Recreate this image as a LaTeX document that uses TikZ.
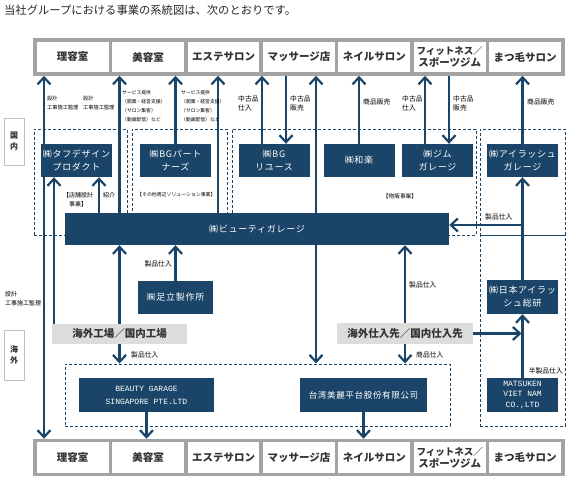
\documentclass[tikz,border=0pt]{standalone}
\usepackage{fontspec}
\setmainfont{Noto Sans CJK JP}
\newfontfamily\cospaced[LetterSpace=8]{Noto Sans CJK JP}
\newfontfamily\latinmono{Liberation Mono}
\usepackage{tikz}
\usetikzlibrary{arrows.meta,positioning,calc}
\usepackage{xcolor}
\definecolor{bgnavy}{HTML}{1B4568}
\definecolor{shopgray}{HTML}{A3A3A3}
\definecolor{srcgray}{HTML}{DCDCDC}

\begin{document}
\begin{tikzpicture}[x=1pt,y=-1pt,font=\fontsize{5.2}{9}\selectfont,
  shop/.style={draw=shopgray,line width=3.5pt,fill=white,minimum width=75.4pt,minimum height=34pt,inner sep=0pt,align=center,text=black!80,font=\fontsize{10.5}{12}\selectfont\bfseries},
  co/.style={fill=bgnavy,text=white,minimum width=71pt,minimum height=33pt,inner sep=0pt,align=center,font=\cospaced\fontsize{9}{13}\selectfont},
  src/.style={fill=srcgray,inner sep=0pt,text=black!80,font=\fontsize{10.5}{12}\selectfont\bfseries},
  grp/.style={draw=bgnavy,line width=1pt,dash pattern=on 3pt off 2pt,inner sep=0pt},
  arr/.style={draw=bgnavy,line width=2.2pt,-{Straight Barb[length=7pt,width=13pt]}},
  lbl/.style={inner sep=0pt,anchor=west,align=left},
  flow/.style={lbl,font=\fontsize{6.8}{9}\selectfont},
  area/.style={draw=black!25,line width=0.8pt,fill=white,minimum width=20pt,inner sep=0pt,align=center,text=black!80,font=\fontsize{8}{11}\selectfont\bfseries}]
  \useasboundingbox (0,0) rectangle (580,482);
  \node[lbl,text=black!85,font=\fontsize{11.3}{13}\selectfont] (title) at (4,10) {当社グループにおける事業の系統図は、次のとおりです。};
  \foreach \t [count=\i] in {理容室,美容室,エステサロン,マッサージ店,ネイルサロン,{\fontsize{9.5}{11}\selectfont フィットネス／\\スポーツジム},まつ毛サロン}{
    \node[shop] (top\i) at ({35+75.4*(\i-0.5)},57) {\t};
    \node[shop] (bot\i) at ({35+75.4*(\i-0.5)},457.5) {\t};
  }
  \node[area,minimum height=47pt] (domestic) at (14,141.5) {国\\内};
  \node[area,minimum height=50pt] (overseas) at (14,355) {海\\外};

  \node[grp,minimum width=93pt,minimum height=106pt] (gTough) at (80.5,182) {};
  \node[grp,minimum width=95pt,minimum height=106pt] (gPartner) at (179.5,182) {};
  \node[grp,minimum width=244pt,minimum height=106pt] (gRetail) at (354,182) {};
  \node[grp,minimum width=85pt,minimum height=106pt] (gLashJp) at (522.5,182) {};
  \node[grp,minimum width=85pt,minimum height=191pt] (gLashVn) at (522.5,330.5) {};
  \node[grp,minimum width=385pt,minimum height=62pt] (gOverseas) at (257.5,395) {};

  \node[co] (tough) at (76.5,160.5) {㈱タフデザイン\\プロダクト};
  \node[co] (bgp) at (175.5,160.5) {㈱BGパート\\ナーズ};
  \node[co] (reuse) at (274,160.5) {㈱BG\\リユース};
  \node[co] (waraku) at (359,160.5) {㈱和楽};
  \node[co] (gym) at (437.5,160.5) {㈱ジム\\ガレージ};
  \node[co] (lashg) at (522.5,160.5) {㈱アイラッシュ\\ガレージ};
  \node[co,minimum width=384pt,minimum height=32pt] (bg) at (257,229) {㈱ビューティガレージ};
  \node[co,minimum width=75pt] (adachi) at (175.5,297.5) {㈱足立製作所};
  \node[co,minimum height=34pt] (lashinst) at (522.5,297) {㈱日本アイラッ\\シュ総研};
  \node[src,minimum width=135pt,minimum height=20pt] (factory) at (119.5,334) {海外工場／国内工場};
  \node[src,minimum width=136pt,minimum height=21pt] (supplier) at (405,333.5) {海外仕入先／国内仕入先};
  \node[co,minimum width=135pt,minimum height=34pt,font=\latinmono\fontsize{8}{13}\selectfont] (sgp) at (146.5,395) {BEAUTY GARAGE\\SINGAPORE PTE.LTD};
  \node[co,minimum width=127pt,minimum height=34pt,font=\cospaced\fontsize{8.5}{10}\selectfont] (twn) at (363.5,395) {台湾美麗平台股份有限公司};
  \node[co,minimum height=34pt,font=\latinmono\fontsize{8}{10.5}\selectfont] (mtk) at (522.5,395) {MATSUKEN\\VIET NAM\\CO.,LTD};

  \foreach \n/\x in {a/44,b/54,c/99,f/218,g/262,h/286,i/316,l/425,m/449} \coordinate (col\n) at (\x,0);
  \coordinate (lashjoin) at (522.5,225);

  \draw[arr] (tough.north -| cola) -- (top1.south -| cola);
  \draw[arr] (tough.south -| cola) -- (bot1.north -| cola);
  \draw[arr] (factory.north -| colb) -- (tough.south -| colb);
  \draw[arr] (bg.north -| colc) -- (tough.south -| colc);
  \draw[arr] (bg.north -| factory) -- (top2.south -| factory);
  \draw[arr] (factory.north) -- (bg.south -| factory);
  \draw[arr] (factory.south) -- (gOverseas.north -| factory);
  \draw[arr] (bgp.north) -- (top2.south -| bgp);
  \draw[arr] (adachi.north) -- (bg.south -| adachi);
  \draw[arr] (bg.north -| colf) -- (top3.south -| colf);
  \draw[arr] (reuse.north -| colg) -- (top4.south -| colg);
  \draw[arr] (top4.south -| colh) -- (reuse.north -| colh);
  \draw[arr] (bg.north -| coli) -- (top4.south -| coli);
  \draw[arr] (bg.south -| coli) -- (gOverseas.north -| coli);
  \draw[arr] (waraku.north) -- (top5.south -| waraku);
  \draw[arr] (supplier.north) -- (bg.south -| supplier);
  \draw[arr] (supplier.south) -- (gOverseas.north -| supplier);
  \draw[arr] (gym.north -| coll) -- (top6.south -| coll);
  \draw[arr] (top6.south -| colm) -- (gym.north -| colm);
  \draw[arr] (lashg.north) -- (top7.south -| lashg);
  \draw[arr] (lashinst.north) -- (lashg.south);
  \draw[arr] (mtk.north) -- (lashinst.south);
  \draw[arr] (lashjoin) -- (lashjoin -| bg.east);
  \draw[arr,shorten >=1pt] (supplier.east) -- (supplier.east -| lashinst);
  \draw[arr] (sgp.south) -- (bot2.north -| sgp);
  \draw[arr] (twn.south) -- (bot5.north -| twn);

  \node[lbl] (lDesign1) at (47,103) {設計\\工事施工監理};
  \node[lbl] (lDesign2) at (83,103) {設計\\工事施工監理};
  \node[lbl,font=\fontsize{4.8}{9}\selectfont] (lService1) at (122,106.5) {サービス提供\\（開業・経営支援）\\（サロン集客）\\（動画配信）など};
  \node[lbl,font=\fontsize{4.8}{9}\selectfont] (lService2) at (181,106.5) {サービス提供\\（開業・経営支援）\\（サロン集客）\\（動画配信）など};
  \node[flow] (lUsedBuy1) at (238,103) {中古品\\仕入};
  \node[flow] (lUsedSell1) at (290,103) {中古品\\販売};
  \node[flow] (lSell1) at (363,102) {商品販売};
  \node[flow] (lUsedBuy2) at (402,103) {中古品\\仕入};
  \node[flow] (lUsedSell2) at (453,103) {中古品\\販売};
  \node[flow] (lSell2) at (527,102) {商品販売};
  \node[align=center,inner sep=0pt,font=\fontsize{6}{9}\selectfont] (lStore) at (78,200) {【店舗設計\\事業】};
  \node[lbl,font=\fontsize{6}{9}\selectfont] (lIntro) at (103,195) {紹介};
  \node[lbl,font=\fontsize{4.9}{9}\selectfont] (lSolution) at (137,195) {【その他周辺ソリューション事業】};
  \node[inner sep=0pt,font=\fontsize{5.7}{9}\selectfont] (lRetail) at (400,196) {【物販事業】};
  \node[flow] (lBuyLash) at (485,217) {製品仕入};
  \node[flow,anchor=east] (lBuyAdachi) at (172,264) {製品仕入};
  \node[flow] (lBuyFactory) at (131,355) {製品仕入};
  \node[flow] (lBuySupplier) at (409,285) {製品仕入};
  \node[flow] (lGoodsSupplier) at (416,355) {商品仕入};
  \node[flow,anchor=east] (lSemi) at (563,371) {半製品仕入};
  \node[lbl,font=\fontsize{6}{9}\selectfont] (lDesign3) at (5,299) {設計\\工事施工監理};
\end{tikzpicture}
\end{document}
